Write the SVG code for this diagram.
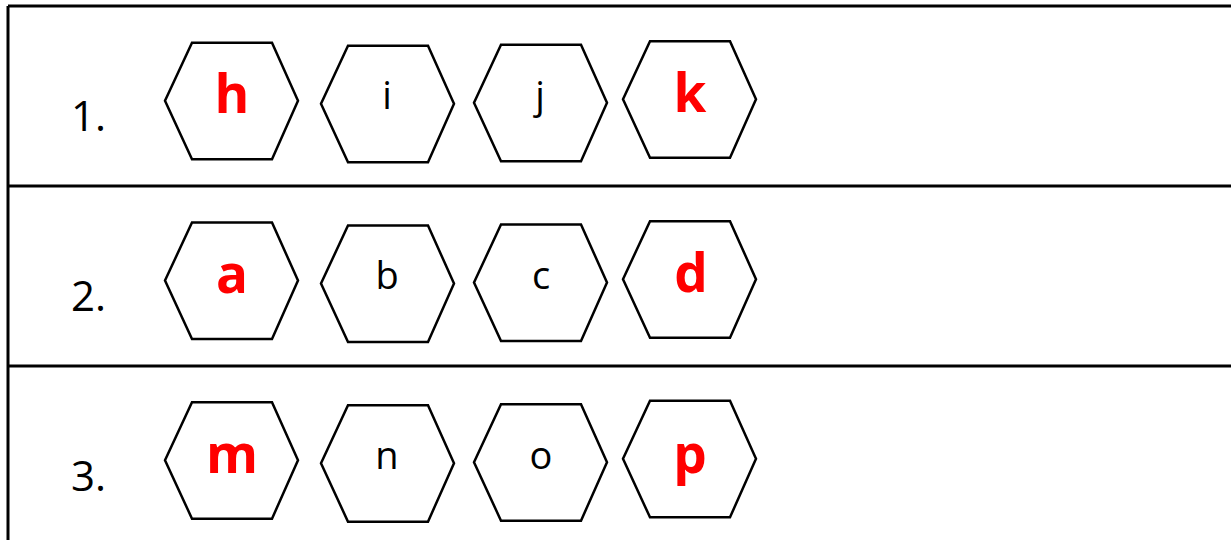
<svg xmlns="http://www.w3.org/2000/svg" width="1231" height="540" viewBox="0 0 1231 540">
<style>
.grid{stroke:#000;stroke-width:3;fill:none}
.hex{fill:#fff;stroke:#000;stroke-width:2.5;stroke-linejoin:miter}
.num{font-family:"Open Sans","DejaVu Sans",sans-serif;font-size:42px;fill:#000}
.blk{font-family:"Open Sans","DejaVu Sans",sans-serif;font-size:38px;fill:#000;text-anchor:middle}
.red{font-family:"Open Sans","DejaVu Sans",sans-serif;font-size:53px;font-weight:bold;fill:#ff0000;text-anchor:middle}
</style>
<defs>
<polygon id="hx" points="0,58 27,0 107,0 133,58 107,116.5 27,116.5"/>
</defs>
<rect width="1231" height="540" fill="#fff"/>
<g id="table">
<path class="grid" d="M8,6 H1231 M8,6 V540 M8,186 H1231 M8,366 H1231"/>
</g>
<g id="row1">
<text class="num" x="71" y="131">1.</text>
<g id="h"><use href="#hx" class="hex" x="165" y="42.7"/><text class="red" x="232" y="113">h</text></g>
<g id="i"><use href="#hx" class="hex" x="321" y="45.7"/><text class="blk" x="387" y="109">i</text></g>
<g id="j"><use href="#hx" class="hex" x="474" y="44.7"/><text class="blk" x="540" y="109">j</text></g>
<g id="k"><use href="#hx" class="hex" x="623" y="41.3"/><text class="red" x="690" y="112">k</text></g>
</g>
<g id="row2">
<text class="num" x="71" y="311">2.</text>
<g id="a"><use href="#hx" class="hex" x="165" y="222.5"/><text class="red" x="232" y="293">a</text></g>
<g id="b"><use href="#hx" class="hex" x="321" y="225.5"/><text class="blk" x="387" y="289">b</text></g>
<g id="c"><use href="#hx" class="hex" x="474" y="224.5"/><text class="blk" x="541" y="289">c</text></g>
<g id="d"><use href="#hx" class="hex" x="623" y="221.2"/><text class="red" x="691" y="292">d</text></g>
</g>
<g id="row3">
<text class="num" x="71" y="491">3.</text>
<g id="m"><use href="#hx" class="hex" x="165" y="402.2"/><text class="red" x="232" y="473">m</text></g>
<g id="n"><use href="#hx" class="hex" x="321" y="405.2"/><text class="blk" x="387" y="469">n</text></g>
<g id="o"><use href="#hx" class="hex" x="474" y="404.2"/><text class="blk" x="541" y="469">o</text></g>
<g id="p"><use href="#hx" class="hex" x="623" y="400.8"/><text class="red" x="690" y="473">p</text></g>
</g>
<g id="connectors"/>
</svg>
